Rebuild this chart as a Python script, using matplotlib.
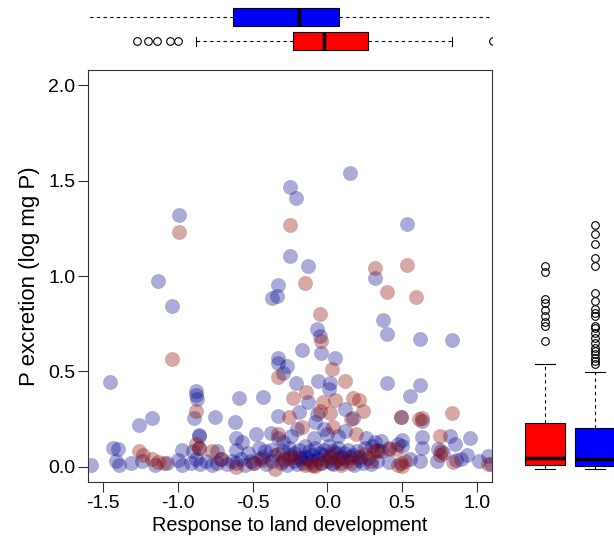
import matplotlib.pyplot as plt
import numpy as np

plt.rcParams['font.family'] = ['Liberation Sans', 'DejaVu Sans']

# scatter data: response to land development (x) vs P excretion (y)
blue_x = [0.15, -0.25, -0.21, -0.99, 0.53, -0.25, -0.13, -1.13, 0.32, -0.33, -0.37, -0.34,
          -1.04, 0.37, -0.07, 0.40, -0.05, 0.62, 0.83, -0.17, -0.04, 0.05, -0.33, -0.33,
          -0.27, -0.30, -1.45, -0.21, -0.06, 0.02, 0.40, 0.62, 0.55, 0.01, -0.88, -0.88,
          -0.87, -0.59, -0.43, -0.13, 0.12, -0.19, -0.89, -1.26, -1.17, -0.75, -0.62, -0.33,
          -0.07, 0.17, -0.08, 0.49, 0.63, -0.86,
          # bottom row
          -1.58, -1.41, -1.39, -1.31, -1.24, -1.15, -1.07, -1.00, -0.97, -0.91, -0.88, -0.85,
          -0.81, -0.77, -0.74, -0.71, -0.67, -0.64, -0.61, -0.58, -0.55, -0.51, -0.49, -0.45,
          -0.41, -0.37, -0.31, -0.29, -0.27, -0.22, -0.20, -0.18, -0.16, -0.14, -0.11, -0.09,
          -0.06, -0.04, 0.00, 0.02, 0.04, 0.07, 0.09, 0.13, 0.15, 0.18, 0.21, 0.24,
          0.27, 0.29, 0.33, 0.41, 0.49, 0.55, 0.62, 0.73, 0.86, 0.89, 1.01, 1.07, 1.09,
          # second row
          -1.43, -1.40, -0.97, -0.90, -0.86, -0.74, -0.61, -0.53, -0.46, -0.42, -0.38, -0.30,
          -0.26, -0.22, -0.19, -0.15, -0.12, -0.08, -0.05, -0.02, 0.01, 0.04, 0.07, 0.11,
          0.14, 0.20, 0.25, 0.30, 0.33, 0.36, 0.41, 0.47, 0.50, 0.63, 0.74, 0.77, 0.85, 0.93,
          # third row
          -0.61, -0.57, -0.48, -0.38, -0.33, -0.30, -0.24, -0.09, 0.00, 0.07, 0.12, -0.02,
          0.32, 0.36, 0.50, 0.63, 0.82, 0.95, -0.86, -0.20, 0.26,
          # extra dense centre
          -0.25, -0.18, -0.13, -0.10, -0.03, 0.03, 0.06, 0.10, 0.17, 0.22, -0.35, -0.44]
blue_y = [1.54, 1.465, 1.41, 1.32, 1.275, 1.105, 1.055, 0.975, 0.99, 0.955, 0.885, 0.895,
          0.845, 0.77, 0.72, 0.695, 0.685, 0.668, 0.663, 0.61, 0.595, 0.568, 0.568, 0.545,
          0.526, 0.49, 0.445, 0.437, 0.447, 0.437, 0.437, 0.43, 0.37, 0.41, 0.395, 0.378,
          0.353, 0.358, 0.368, 0.342, 0.305, 0.289, 0.258, 0.221, 0.253, 0.263, 0.237, 0.268,
          0.274, 0.253, 0.237, 0.26, 0.24, 0.163,
          0.01, 0.03, 0.01, 0.02, 0.03, 0.01, 0.02, 0.035, 0.01, 0.02, 0.04, 0.015,
          0.03, 0.01, 0.02, 0.04, 0.015, 0.03, 0.02, 0.04, 0.01, 0.03, 0.02, 0.04,
          0.015, 0.03, 0.02, 0.04, 0.01, 0.03, 0.015, 0.04, 0.02, 0.05, 0.03, 0.01,
          0.04, 0.02, 0.03, 0.05, 0.015, 0.04, 0.02, 0.03, 0.05, 0.01, 0.035, 0.02,
          0.045, 0.015, 0.03, 0.025, 0.02, 0.04, 0.03, 0.03, 0.035, 0.04, 0.03, 0.055, 0.015,
          0.10, 0.095, 0.09, 0.08, 0.10, 0.08, 0.09, 0.07, 0.10, 0.08, 0.09, 0.08,
          0.10, 0.07, 0.09, 0.11, 0.08, 0.10, 0.07, 0.09, 0.11, 0.08, 0.10, 0.07,
          0.09, 0.08, 0.10, 0.11, 0.09, 0.08, 0.10, 0.12, 0.11, 0.10, 0.095, 0.07, 0.12, 0.06,
          0.15, 0.13, 0.17, 0.175, 0.15, 0.13, 0.16, 0.15, 0.17, 0.16, 0.19, 0.20,
          0.13, 0.135, 0.14, 0.155, 0.16, 0.15, 0.165, 0.20, 0.15,
          0.06, 0.05, 0.04, 0.06, 0.06, 0.02, 0.07, 0.05, 0.06, 0.05, 0.06, 0.05]

red_x = [-0.99, -0.25, 0.32, 0.53, -0.15, 0.40, 0.59, -0.05, -1.04, -0.045, 0.03,
         -0.88, -0.33, -0.23, -0.14, -0.03, 0.05, 0.12, 0.17, 0.21, 0.24, 0.02, 0.16,
         -0.17, 0.04, 0.19, 0.75, 0.83, 0.49, 0.63, 0.61, -0.26, -0.33, -0.05,
         -1.26, -1.23, -1.17, -1.13, -1.09, -0.88, -0.86, -0.77, -0.71, -0.61, -0.35, -0.33,
         -0.30, -0.26, -0.22, -0.15, -0.11, -0.08, -0.04, 0.00, 0.03, 0.06, 0.09, 0.12,
         0.16, 0.20, 0.25, 0.29, 0.31, 0.34, 0.41, 0.46, 0.47, 0.50, 0.52, 0.75, 0.76,
         0.84, 1.07, -0.43, -0.50]
red_y = [1.23, 1.265, 1.04, 1.06, 0.965, 0.915, 0.89, 0.80, 0.565, 0.66, 0.51,
         0.29, 0.47, 0.36, 0.39, 0.34, 0.35, 0.45, 0.36, 0.35, 0.29, 0.28, 0.25,
         0.21, 0.21, 0.17, 0.16, 0.28, 0.26, 0.255, 0.25, 0.26, 0.17, 0.29,
         0.08, 0.06, 0.04, 0.025, 0.02, 0.12, 0.10, 0.085, 0.04, 0.0, -0.01, 0.065,
         0.03, 0.045, 0.05, 0.01, 0.01, 0.005, 0.02, 0.04, 0.065, 0.03, 0.01, 0.045,
         0.02, 0.05, 0.065, 0.03, 0.08, 0.085, 0.095, 0.095, 0.01, 0.005, 0.03, 0.06, 0.085,
         0.025, 0.015, 0.035, 0.02]

# marginal boxplot summaries (x: top, y: right)
red_xbox = dict(med=-0.02, q1=-0.23, q3=0.27, whislo=-0.88, whishi=0.83,
                fliers=[-1.27, -1.2, -1.14, -1.05, -1.0, 1.105])
blue_xbox = dict(med=-0.19, q1=-0.63, q3=0.08, whislo=-1.7, whishi=1.2, fliers=[])
red_ybox = dict(med=0.047, q1=0.01, q3=0.23, whislo=-0.01, whishi=0.537,
                fliers=[0.66, 0.74, 0.76, 0.79, 0.82, 0.86, 0.88, 1.02, 1.05])
blue_ybox = dict(med=0.042, q1=0.005, q3=0.205, whislo=-0.01, whishi=0.495,
                 fliers=[0.537, 0.553, 0.568, 0.589, 0.605, 0.621, 0.647, 0.674, 0.70,
                         0.726, 0.737, 0.789, 0.805, 0.826, 0.868, 0.91, 1.05, 1.095,
                         1.17, 1.22, 1.27])

W, H = 614, 543
fig = plt.figure(figsize=(W/100, H/100), dpi=100)
ax = fig.add_axes([88/W, 61/H, 404/W, 412/H])
ax_top = fig.add_axes([88/W, 1 - 58/H, 404/W, 58/H])
ax_right = fig.add_axes([510/W, 61/H, 130/W, 412/H])

ax.scatter(blue_x, blue_y, s=115, color='#00008B', alpha=0.33, linewidths=0)
ax.scatter(red_x, red_y, s=115, color='#8B0A00', alpha=0.35, linewidths=0)

ax.set_xlim(-1.6, 1.1)
ax.set_ylim(-0.08, 2.08)
ax.set_xticks([-1.5, -1.0, -0.5, 0.0, 0.5, 1.0])
ax.set_yticks([0.0, 0.5, 1.0, 1.5, 2.0])
ax.xaxis.set_major_formatter(plt.FormatStrFormatter('%.1f'))
ax.yaxis.set_major_formatter(plt.FormatStrFormatter('%.1f'))
ax.tick_params(direction='out', length=7, width=0.8, labelsize=14, pad=2, color='#333333')
for sp in ax.spines.values():
    sp.set_color('#333333')
    sp.set_linewidth(0.8)
ax.set_xlabel('Response to land development', fontsize=14.3, labelpad=3)
ax.set_ylabel('P excretion (log mg P)', fontsize=16, labelpad=6)

box_kw = dict(patch_artist=True, capwidths=0.375,
              medianprops=dict(color='black', linewidth=2.5),
              whiskerprops=dict(color='black', linewidth=0.8, linestyle=(0, (3, 3))),
              capprops=dict(color='black', linewidth=0.8),
              boxprops=dict(edgecolor='black', linewidth=0.8),
              flierprops=dict(marker='o', markerfacecolor='none', markeredgecolor='black',
                              markersize=5.5, markeredgewidth=0.8))

bp = ax_top.bxp([red_xbox, blue_xbox], positions=[1, 2], widths=0.75,
                orientation='horizontal', **box_kw)
for patch, c in zip(bp['boxes'], ['#FF0000', '#0000FF']):
    patch.set_facecolor(c)
ax_top.set_xlim(-1.6, 1.1)
ax_top.set_ylim(0.292, 2.708)
ax_top.set_axis_off()

box_kw['capwidths'] = 0.4
bp = ax_right.bxp([red_ybox, blue_ybox], positions=[1, 2], widths=0.8, **box_kw)
for patch, c in zip(bp['boxes'], ['#FF0000', '#0000FF']):
    patch.set_facecolor(c)
ax_right.set_ylim(-0.08, 2.08)
ax_right.set_xlim(0.3, 2.9)
ax_right.set_axis_off()

fig.savefig('out.png', dpi=100)
